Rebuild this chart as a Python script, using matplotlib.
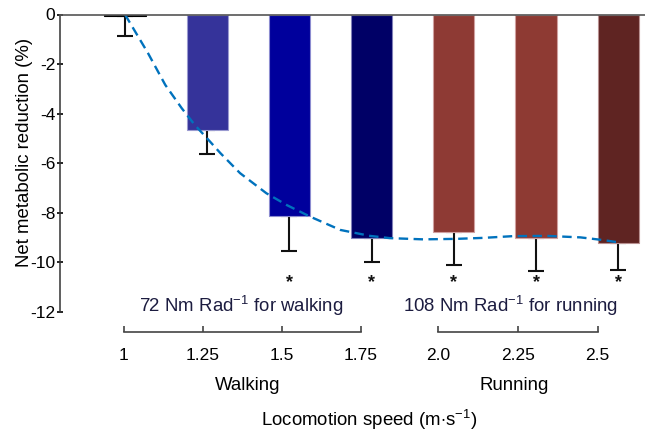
import numpy as np
import matplotlib
matplotlib.use('Agg')
import matplotlib.pyplot as plt

plt.rcParams['font.family'] = ['Liberation Sans', 'DejaVu Sans']
plt.rcParams['mathtext.fontset'] = 'custom'
plt.rcParams['mathtext.rm'] = 'Liberation Sans'
plt.rcParams['mathtext.it'] = 'Liberation Sans:italic'
plt.rcParams['axes.unicode_minus'] = False

# data
speeds = ['1', '1.25', '1.5', '1.75', '2.0', '2.25', '2.5']
reduction = [-0.08, -4.66, -8.13, -9.03, -8.79, -9.01, -9.21]
err_low = [0.77, 0.97, 1.42, 0.97, 1.32, 1.32, 1.08]
significant = [False, False, True, True, True, True, True]
bar_colors = ['#000000', '#35339A', '#00009C', '#000066', '#8E3A34', '#8E3A33', '#5F2422']
edge_colors = ['#000000', '#9a9ad0', '#8c8cd0', '#8080b8', '#d0a0a0', '#d0a0a0', '#b89090']

# dashed fit curve (x in bar index units)
fit_x = [0, 0.28, 0.49, 0.69, 0.85, 1.0, 1.16, 1.40, 1.72, 1.97, 2.25, 2.62,
         2.98, 3.22, 3.63, 4.03, 4.36, 4.72, 5.13, 5.54, 5.82, 5.98]
fit_y = [0, -1.56, -2.84, -3.78, -4.46, -5.0, -5.59, -6.40, -7.21, -7.69, -8.15, -8.69,
         -8.93, -9.02, -9.07, -9.05, -9.01, -8.94, -8.93, -8.99, -9.10, -9.18]

W, H = 645, 434
fig = plt.figure(figsize=(W / 100, H / 100), dpi=100)

def px_axes(l, r, top, bot):
    return [l / W, (H - bot) / H, (r - l) / W, (bot - top) / H]

ax = fig.add_axes(px_axes(60, 645, 14.5, 312))
x = np.arange(len(speeds))
ax.bar(x, reduction, width=0.5, color=bar_colors, edgecolor=edge_colors, linewidth=0.8, zorder=2)
ax.errorbar(x, reduction, yerr=[err_low, np.zeros(len(x))], fmt='none', ecolor='#111111',
            elinewidth=1.5, capsize=5.5, capthick=1.5, zorder=1)
ax.plot(fit_x, fit_y, color='#0072BD', lw=1.7, dashes=(4.0, 2.3), zorder=3)
for xi, s in zip(x, significant):
    if s:
        ax.text(xi, -11.0, '*', ha='center', va='baseline', fontsize=13, color='#111111',
                fontweight='bold')

ax.set_xlim((60 - 125) / 82.2, (645 - 125) / 82.2)
ax.set_ylim(-12, 0)
ax.set_yticks(range(-12, 1, 2))
ax.set_xticks([])
ax.tick_params(axis='y', direction='inout', length=5, width=1.2, labelsize=12.5, pad=1)
ax.spines['right'].set_visible(False)
ax.spines['bottom'].set_visible(False)
ax.spines['left'].set_color('#333333')
ax.spines['left'].set_linewidth(1.1)
ax.spines['top'].set_color('#555555')
ax.spines['top'].set_linewidth(1.2)
ax.spines['top'].set_zorder(4)

# bracket axes for walking and running speeds
ax_w = fig.add_axes(px_axes(124, 361, 331.7, 331.7))
ax_r = fig.add_axes(px_axes(438.3, 597.7, 331.7, 331.7))
for a, lo, hi in [(ax_w, 0, 3), (ax_r, 4, 6)]:
    a.set_xlim(lo, hi)
    a.set_xticks(range(lo, hi + 1))
    a.set_xticklabels(speeds[lo:hi + 1])
    a.set_yticks([])
    for side in ['top', 'left', 'right']:
        a.spines[side].set_visible(False)
    a.spines['bottom'].set_color('#444444')
    a.spines['bottom'].set_linewidth(1.2)
    a.tick_params(axis='x', direction='in', length=4, width=1.2, color='#444444',
                  labelsize=12.5, pad=12)
    a.patch.set_visible(False)

def fx(px):
    return px / W

def fy(py):
    return (H - py) / H

fs = 13.4
fig.text(fx(241.5), fy(312), r'72 Nm Rad$^{\mathrm{-1}}$ for walking', ha='center', va='baseline',
         fontsize=fs, color='#1c1c40')
fig.text(fx(511), fy(312), r'108 Nm Rad$^{\mathrm{-1}}$ for running', ha='center', va='baseline',
         fontsize=fs, color='#1c1c40')
fig.text(fx(248), fy(390), 'Walking', ha='center', va='baseline', fontsize=fs)
fig.text(fx(514), fy(390), 'Running', ha='center', va='baseline', fontsize=fs)
fig.text(fx(369), fy(426.5), r'Locomotion speed (m$\cdot$s$^{\mathrm{-1}}$)', ha='center', va='baseline',
         fontsize=fs)
fig.text(fx(25), fy(152.5), 'Net metabolic reduction (%)', rotation=90, ha='center', va='center',
         fontsize=fs)

fig.savefig('out.png', dpi=100)
